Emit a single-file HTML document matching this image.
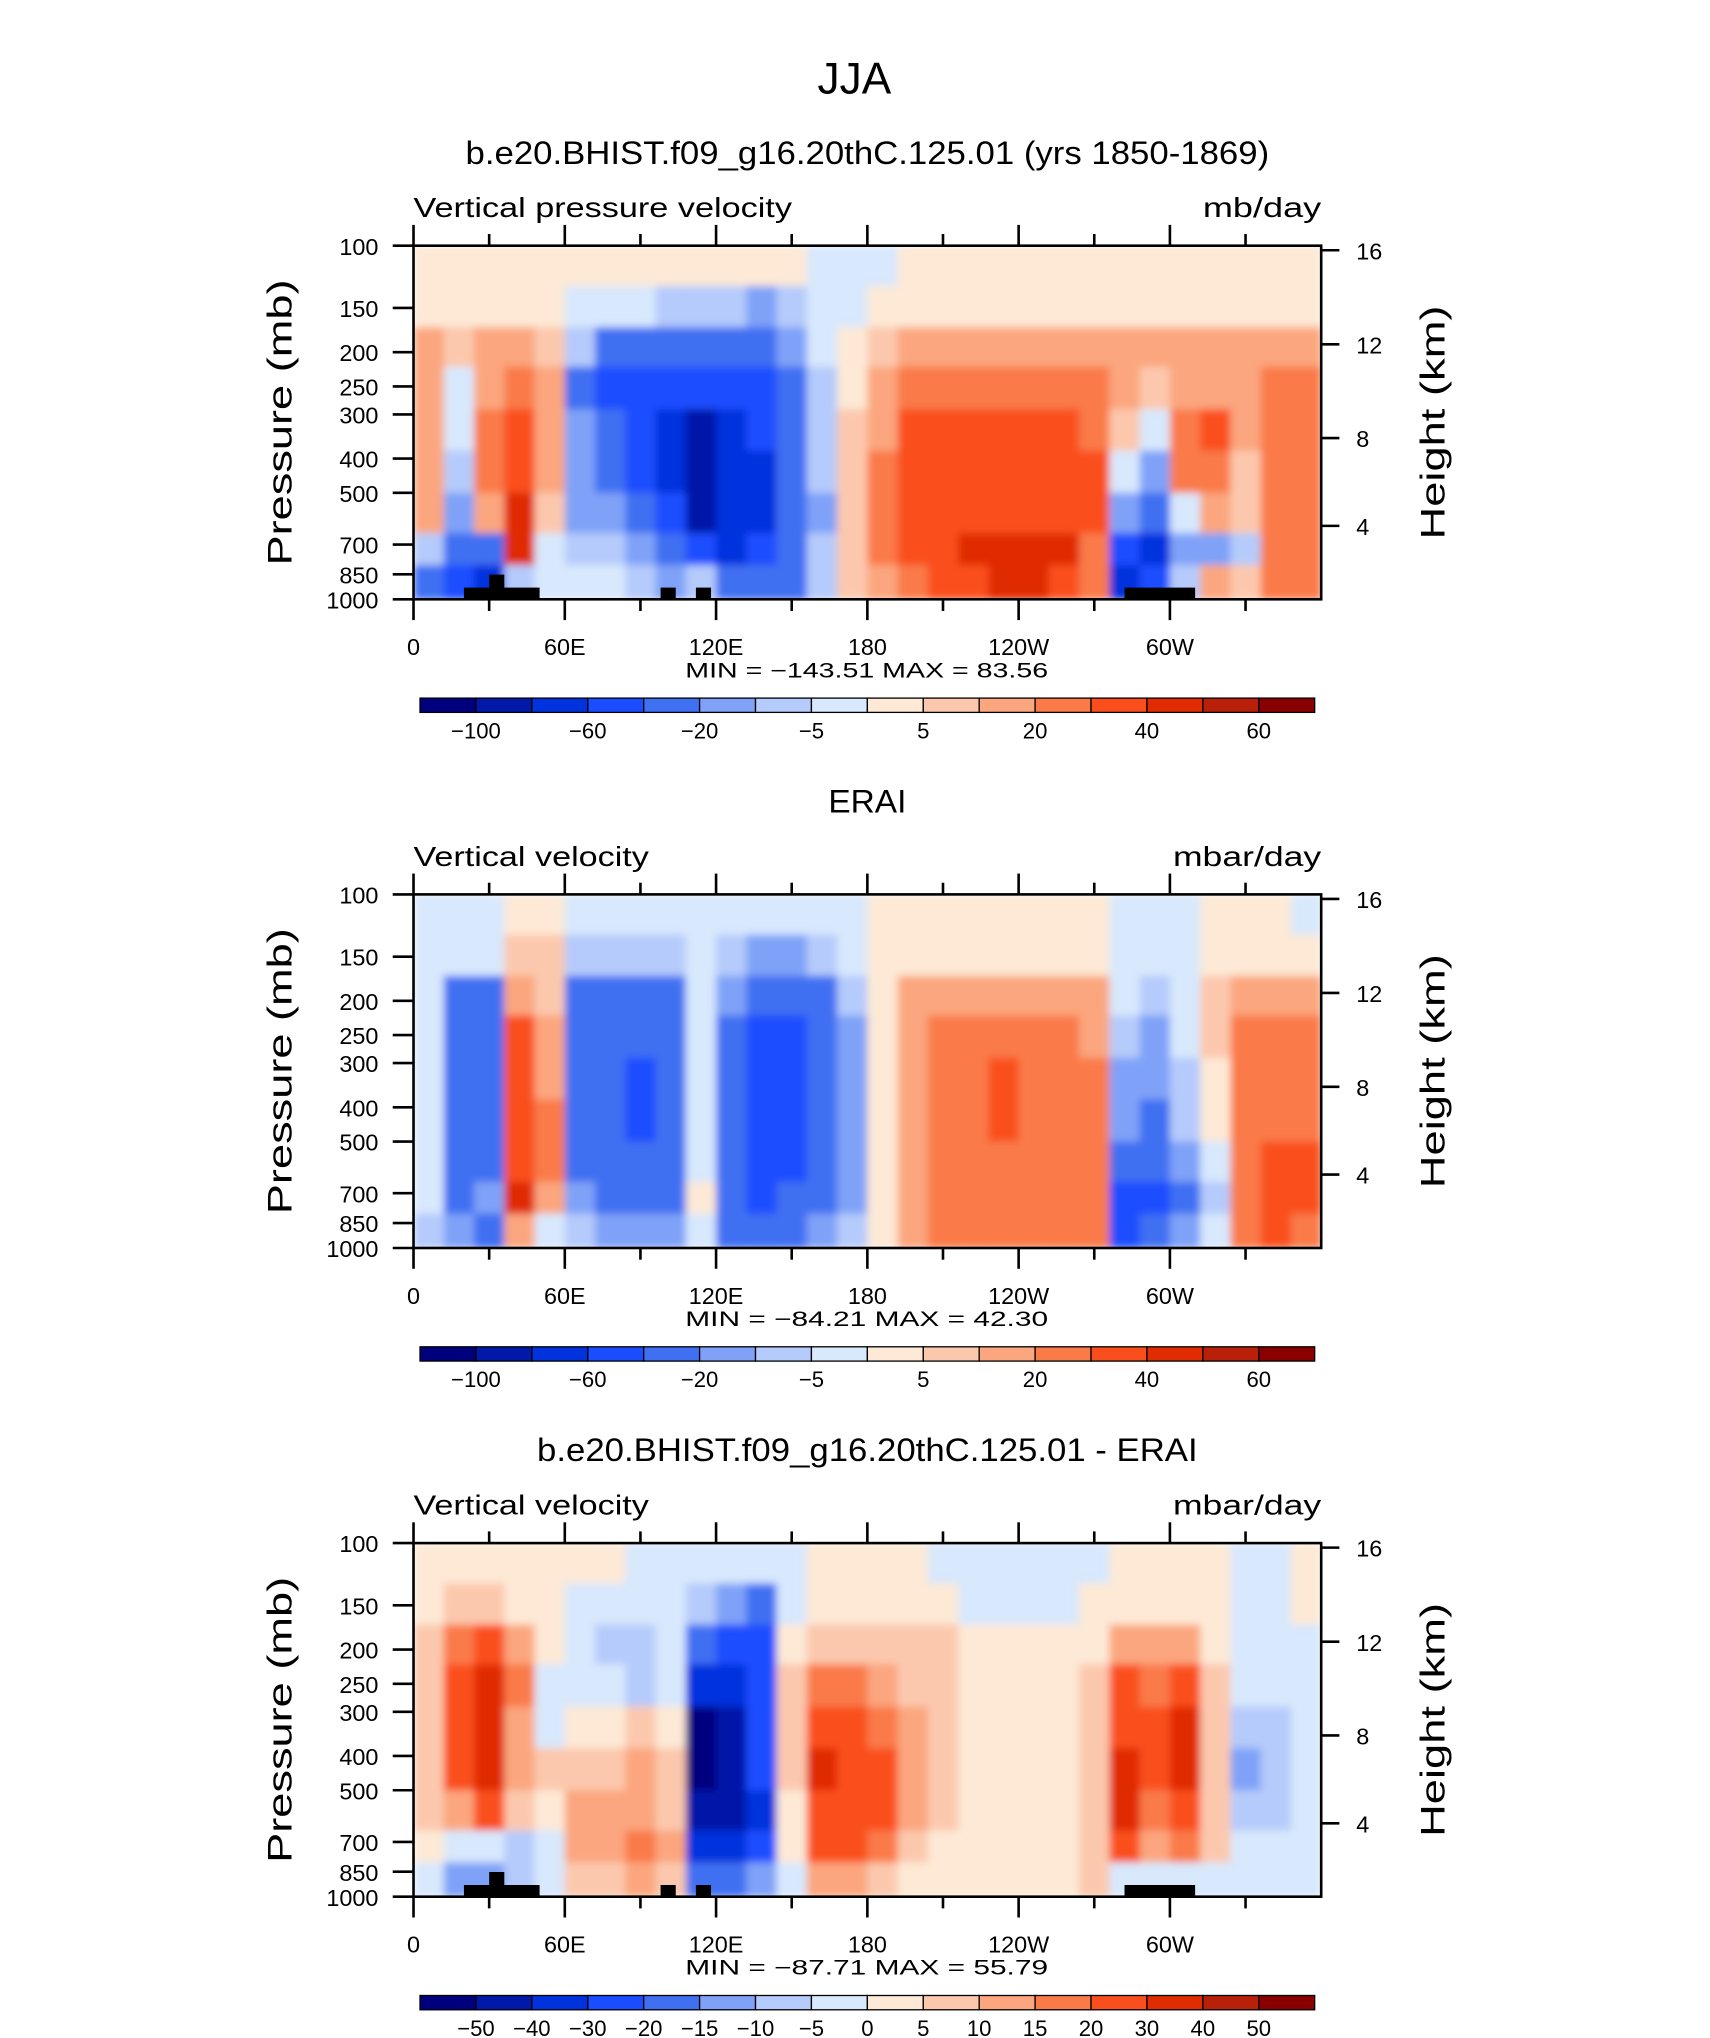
<!DOCTYPE html>
<html><head><meta charset="utf-8"><style>
html,body{margin:0;padding:0;background:#fff}
svg{display:block}
text{font-family:"Liberation Sans",sans-serif;fill:#000}
</style></head><body>
<svg id="chart" width="1710" height="2038" viewBox="0 0 1315 1567.7" preserveAspectRatio="none" xmlns="http://www.w3.org/2000/svg">
<defs>
<filter id="soft" x="0" y="0" width="1" height="1"><feGaussianBlur stdDeviation="3" edgeMode="duplicate"/></filter>
</defs>
<rect width="1315" height="1567.7" fill="#fff"/>
<text x="657" y="72" font-size="34" text-anchor="middle" font-weight="300">JJA</text>
</svg>
<script>
// ---- data ----
const levelsP = [100,130,170,220,290,380,500,650,800,1000];
const panelTitles = ["b.e20.BHIST.f09_g16.20thC.125.01 (yrs 1850-1869)","ERAI","b.e20.BHIST.f09_g16.20thC.125.01 - ERAI"];
const titleWidths = [618,60,508];
const leftLabels = ["Vertical pressure velocity","Vertical velocity","Vertical velocity"];
const leftWidths = [291,181,181];
const unitLabels = ["mb/day","mbar/day","mbar/day"];
const unitWidths = [91,114,114];
const minMax = ["MIN = \u2212143.51   MAX =   83.56","MIN = \u221284.21   MAX =   42.30","MIN = \u221287.71   MAX =   55.79"];
const pTicks = [100,150,200,250,300,400,500,700,850,1000];
const hTicks = [16,12,8,4];
const hTickP = [103,190,350,620];
const lonTicks = [0,60,120,180,240,300];
const lonLabels = ["0","60E","120E","180","120W","60W"];
const boundsAbs = [-100,-80,-60,-40,-20,-10,-5,0,5,10,20,30,40,50,60];
const boundsDiff = [-50,-40,-30,-20,-15,-10,-5,0,5,10,15,20,30,40,50];
const labelsAbs = ["\u2212100","","\u221260","","\u221220","","\u22125","","5","","20","","40","","60"];
const labelsDiff = ["\u221250","\u221240","\u221230","\u221220","\u221215","\u221210","\u22125","0","5","10","15","20","30","40","50"];
const colors = ["#00007f","#0019a8","#0033dd","#1a4dff","#3f70f2","#7fa2f8","#b5cbfb","#d8e8fd","#fde9d6","#fcc8ad","#fba67e","#fa7a48","#fa4f1c","#e02c00","#b8200a","#8a0000"];
const topo = [[20,50,1],[30,36,2],[98,104,1],[112,118,1],[282,310,1]];
const field1 = [
[3,4,12,12,12,10,12,-10,-30],[3,4,8,-3,-5,-10,-20,-40,-50],[3,4,12,15,22,25,15,-40,-70],[3,4,12,20,35,35,40,45,-10],
[3,4,8,10,12,10,6,-5,-5],[2,-3,-10,-30,-20,-15,-12,-8,-3],[2,-5,-40,-45,-40,-30,-20,-10,-5],[2,-5,-40,-60,-60,-50,-40,-20,-8],
[2,-10,-40,-60,-80,-70,-60,-40,-20],[1,-10,-40,-60,-90,-100,-90,-60,-10],[1,-10,-40,-60,-80,-80,-80,-70,-40],[1,-15,-30,-50,-60,-70,-70,-60,-40],
[1,-10,-20,-25,-30,-40,-40,-35,-25],[-1,-3,-5,-8,-10,-10,-12,-10,-8],[-1,-1,3,4,6,7,7,6,5],[-1,3,8,15,18,20,22,20,15],
[2,3,10,25,30,30,30,30,20],[3,4,12,22,30,35,35,35,30],[3,4,12,22,30,35,35,42,35],[3,4,12,22,30,35,35,45,42],
[3,4,12,22,30,35,35,45,42],[3,4,12,22,30,35,35,40,35],[3,4,12,20,25,30,30,25,20],[3,4,10,10,5,-5,-20,-60,-80],
[3,4,10,5,-5,-20,-40,-70,-60],[3,4,10,15,25,20,-5,-20,-10],[3,4,10,15,30,25,10,-20,15],[3,4,12,12,10,8,6,-10,5],
[3,4,15,20,20,20,20,20,25],[3,4,15,20,22,20,20,20,22]];
const field2 = [
[-2,-3,-3,-3,-3,-3,-3,-5,-8],[-2,-5,-25,-40,-40,-40,-35,-40,-20],[-2,-5,-30,-40,-40,-30,-30,-20,-30],[3,6,12,30,35,35,35,40,10],
[3,5,8,10,12,20,25,15,-5],[-3,-8,-25,-30,-35,-30,-25,-20,-10],[-3,-10,-30,-40,-40,-40,-35,-30,-15],[-3,-10,-30,-40,-55,-50,-40,-30,-15],
[-3,-10,-30,-40,-40,-40,-40,-35,-20],[-3,-5,-5,-3,-5,-5,-3,3,-5],[-3,-10,-20,-25,-30,-30,-30,-30,-25],[-3,-15,-35,-45,-50,-50,-50,-45,-30],
[-3,-15,-40,-50,-55,-60,-50,-40,-25],[-3,-10,-30,-40,-40,-40,-40,-30,-20],[-2,-5,-8,-15,-20,-20,-20,-15,-10],[2,3,4,4,4,4,4,3,3],
[2,4,10,12,15,15,15,15,12],[2,4,12,20,25,25,25,25,25],[2,4,12,20,25,25,25,25,25],[2,4,12,20,35,30,25,25,25],
[2,4,12,20,25,25,25,25,25],[2,4,12,20,25,25,25,25,25],[2,4,10,18,20,25,25,25,20],[-2,-3,-5,-10,-15,-20,-40,-60,-60],
[-2,-3,-8,-15,-20,-30,-40,-50,-40],[-2,-5,-5,-5,-10,-10,-20,-30,-20],[2,3,5,5,4,3,-5,-10,-5],[2,4,10,20,20,20,22,22,25],
[2,4,12,20,20,25,30,30,30],[-2,4,12,20,20,22,30,30,28]];
const field3 = [
[2,2,5,5,5,5,5,0,-5],[2,5,15,25,25,20,10,-5,-15],[2,5,20,30,35,30,20,-5,-15],[2,3,10,15,12,10,5,-10,-10],
[2,3,3,-3,-3,5,3,-3,-5],[2,-3,-3,-3,3,5,10,10,5],[2,-3,-8,-5,3,8,10,10,5],[-2,-3,-10,-8,5,10,12,15,10],
[-2,-3,-5,-3,3,5,8,10,5],[-2,-10,-20,-40,-60,-60,-50,-40,-20],[-2,-15,-30,-40,-50,-50,-45,-35,-20],[-3,-20,-25,-30,-30,-30,-35,-25,-15],
[-2,-5,3,5,8,5,3,0,-3],[2,3,8,15,25,30,25,20,10],[2,3,8,15,25,25,25,20,10],[2,3,5,10,15,20,20,15,5],
[2,3,5,8,10,10,10,5,3],[-2,3,5,5,5,5,5,3,3],[-2,-2,2,3,3,3,3,2,2],[-2,-2,2,3,3,3,3,2,2],
[-2,-2,2,3,3,3,3,2,2],[-2,-2,2,3,3,3,3,2,2],[-2,2,3,5,5,8,5,5,5],[2,3,10,20,25,30,30,20,-5],
[2,3,10,15,20,25,15,10,-5],[2,3,10,20,30,30,20,15,-5],[2,2,3,5,8,5,5,5,-3],[-2,-2,-3,-5,-10,-15,-10,-5,-3],
[-2,-2,-3,-5,-10,-10,-8,-5,-3],[2,2,-3,-3,-5,-5,-3,-3,-3]];
const fields = [field1, field2, field3];
const panelTopo = [true,false,true];

// ---- rendering ----
const NS = "http://www.w3.org/2000/svg";
const svg = document.getElementById("chart");
const X0 = 318, X1 = 1016, PH = 272;
const tops = [189, 688, 1187];
function xScale(lon){ return X0 + lon/360*(X1-X0); }
function yScale(p, top){ return top + Math.log(p/100)/Math.log(10)*PH; }
function colorFor(v, b){ let i=0; while(i<b.length && v>=b[i]) i++; return colors[i]; }
function mk(tag, attrs, parent){ const e=document.createElementNS(NS,tag); for(const k in attrs) e.setAttribute(k,attrs[k]); (parent||svg).appendChild(e); return e; }
function txt(s, attrs, parent){ const e=mk("text",attrs,parent); e.textContent=s; return e; }
const defs = svg.querySelector("defs");

fields.forEach((field, pi) => {
  const top = tops[pi];
  const bounds = pi===2 ? boundsDiff : boundsAbs;
  const g = mk("g", {});
  
  
  const tw = titleWidths[pi];
  const t = txt(panelTitles[pi], {x:667-tw/2, y:top-63, "font-size":25, textLength:tw, lengthAdjust:"spacingAndGlyphs"}, g);
  
  
  const l = txt(leftLabels[pi], {x:X0, y:top-22, "font-size":21, textLength:leftWidths[pi], lengthAdjust:"spacingAndGlyphs", "font-weight":"300"}, g);
  
  
  const u = txt(unitLabels[pi], {x:X1-unitWidths[pi], y:top-22, "font-size":21, textLength:unitWidths[pi], lengthAdjust:"spacingAndGlyphs"}, g);
  
  
  const cp = mk("clipPath", {id:"clip"+pi}, defs);
  mk("rect", {x:X0, y:top, width:X1-X0, height:PH}, cp);
  const clipG = mk("g", {"clip-path":`url(#clip${pi})`}, g);
  const cells = mk("g", {filter:"url(#soft)"}, clipG);
  
  
  const cw = 360/field.length;
  field.forEach((col, ci) => {
    col.forEach((v, ri) => {
      const xa = xScale(ci*cw), xb = xScale((ci+1)*cw);
      const ya = yScale(levelsP[ri], top), yb = yScale(levelsP[ri+1], top);
      const r = mk("rect", {x:xa, y:ya, width:xb-xa+0.6, height:yb-ya+0.6, fill:colorFor(v,bounds)}, cells);
      
      
    });
  });
  if(panelTopo[pi]) topo.forEach(tp => {
    const r = mk("rect", {x:xScale(tp[0]), y:yScale(1000,top)-(tp[2]===2?19:9), width:xScale(tp[1])-xScale(tp[0]), height:(tp[2]===2?19:9), fill:"#000"}, g);
    
    
  });
  const frame = mk("rect", {x:X0, y:top, width:X1-X0, height:PH, fill:"none", stroke:"#000", "stroke-width":2}, g);
  
  
  for(let lon=0; lon<360; lon+=30){
    const x = xScale(lon), major = lon%60===0, len = major?16:9;
    mk("line", {x1:x, y1:top, x2:x, y2:top-len, stroke:"#000", "stroke-width":2}, g);
    mk("line", {x1:x, y1:top+PH, x2:x, y2:top+PH+len, stroke:"#000", "stroke-width":2}, g);
  }
  lonTicks.forEach((lon,i) => {
    const e = txt(lonLabels[i], {x:xScale(lon), y:top+PH+43, "font-size":18, "text-anchor":"middle"}, g);
    
    
  });
  pTicks.forEach(p => {
    const y = yScale(p, top);
    mk("line", {x1:X0, y1:y, x2:X0-16, y2:y, stroke:"#000", "stroke-width":2}, g);
    const e = txt(String(p), {x:X0-27, y:y+7, "font-size":18, "text-anchor":"end"}, g);
    
    
  });
  hTicks.forEach((h,i) => {
    const y = yScale(hTickP[i], top);
    mk("line", {x1:X1, y1:y, x2:X1+14, y2:y, stroke:"#000", "stroke-width":2}, g);
    const e = txt(String(h), {x:X1+27, y:y+7, "font-size":18}, g);
    
    
  });
  const yt = txt("Pressure (mb)", {x:-110, y:0, "font-size":26, textLength:220, lengthAdjust:"spacingAndGlyphs", "font-weight":"300", transform:`translate(224,${top+136}) rotate(-90)`}, g);
  
  
  const ht = txt("Height (km)", {x:-90, y:0, "font-size":26, textLength:180, lengthAdjust:"spacingAndGlyphs", "font-weight":"300", transform:`translate(1111,${top+136}) rotate(-90)`}, g);
  
  
  const mm = txt(minMax[pi], {x:527, y:top+PH+60, "font-size":16, textLength:279, lengthAdjust:"spacingAndGlyphs"}, g);
  
  
  // colorbar
  const cbY = top+PH+76, bx0 = 323, bw = 43;
  colors.forEach((c,i) => {
    const r = mk("rect", {x:bx0+i*bw, y:cbY, width:bw, height:11, fill:c, stroke:"#000", "stroke-width":1}, g);
    
    
  });
  const labs = pi===2 ? labelsDiff : labelsAbs;
  labs.forEach((s,i) => {
    if(!s) return;
    const e = txt(s, {x:bx0+(i+1)*bw, y:cbY+31, "font-size":17, "text-anchor":"middle"}, g);
    
    
  });
});
</script>
</body></html>
